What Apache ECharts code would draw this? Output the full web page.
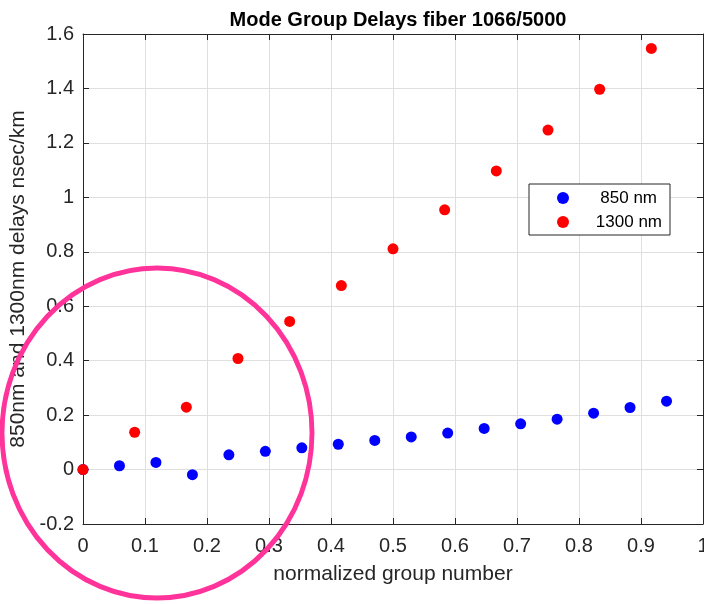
<!DOCTYPE html>
<html>
<head>
<meta charset="utf-8">
<script src="https://cdn.jsdelivr.net/npm/echarts@6/dist/echarts.min.js"></script>
<style>html,body{margin:0;padding:0;background:#fff;}#c{width:704px;height:604px;}</style>
</head>
<body>
<div id="c"></div>
<script>
var x850 = [0, 1/17, 2/17, 3/17, 4/17, 5/17, 6/17, 7/17, 8/17, 9/17, 10/17, 11/17, 12/17, 13/17, 14/17, 15/17, 16/17];
var y850 = [0, 0.014, 0.026, -0.019, 0.054, 0.067, 0.080, 0.093, 0.107, 0.120, 0.134, 0.151, 0.168, 0.185, 0.207, 0.228, 0.251];
var x1300 = [0, 1/12, 2/12, 3/12, 4/12, 5/12, 6/12, 7/12, 8/12, 9/12, 10/12, 11/12];
var y1300 = [0, 0.137, 0.229, 0.408, 0.544, 0.676, 0.811, 0.954, 1.097, 1.247, 1.397, 1.547];
var seriesNames = ['850 nm', '1300 nm'];
var titleText = 'Mode Group Delays fiber 1066/5000';
var xLabel = 'normalized group number';
var yLabel = '850nm and 1300nm delays nsec/km';

function pairs(xs, ys) { return xs.map(function (x, i) { return [x, ys[i]]; }); }
function fmt(v) { return String(parseFloat(v.toFixed(1))); }

var FONT = 'Liberation Sans, Arial, sans-serif';
var AX = '#262626';
var chart = echarts.init(document.getElementById('c'), null, {renderer: 'canvas'});
function axisBase() {
  return {
    axisLine: {show: true, onZero: false, lineStyle: {color: AX, width: 1}},
    axisTick: {show: true, inside: true, length: 6, lineStyle: {color: AX, width: 1}},
    splitLine: {show: false}
  };
}
chart.setOption({
  animation: false,
  backgroundColor: '#fff',
  title: {
    text: titleText, left: 393, top: 5, textAlign: 'center',
    textStyle: {fontFamily: FONT, fontSize: 20, fontWeight: 'bold', color: '#000'}
  },
  grid: {left: 83, right: 1, top: 34, bottom: 80, containLabel: false, outerBoundsMode: 'none'},
  legend: {
    data: seriesNames, orient: 'vertical', left: 529, top: 184,
    padding: [4, 8, 3, 28], itemGap: 4, itemWidth: 12, itemHeight: 12,
    borderColor: AX, borderWidth: 1, backgroundColor: '#fff', borderRadius: 0,
    icon: 'circle',
    formatter: function (n) { return n === seriesNames[0] ? '{a|' + n + '}' : '{b|' + n + '}'; },
    textStyle: {fontFamily: FONT, fontSize: 17, color: '#000', lineHeight: 20,
      rich: {
        a: {width: 83, align: 'right', fontFamily: FONT, fontSize: 17, color: '#000', lineHeight: 20},
        b: {width: 88, align: 'right', fontFamily: FONT, fontSize: 17, color: '#000', lineHeight: 20}
      }}
  },
  xAxis: [
    Object.assign(axisBase(), {
      type: 'value', min: 0, max: 1, interval: 0.1, position: 'bottom',
      name: xLabel, nameLocation: 'middle', nameGap: 40,
      nameTextStyle: {fontFamily: FONT, fontSize: 21, color: AX},
      axisLabel: {formatter: fmt, fontFamily: FONT, fontSize: 20, color: AX, margin: 12, showMaxLabel: true},
      splitLine: {show: true, lineStyle: {color: '#dfdfdf', width: 1}}
    }),
    Object.assign(axisBase(), {
      type: 'value', min: 0, max: 1, interval: 0.1, position: 'top',
      axisLabel: {show: false}
    })
  ],
  yAxis: [
    Object.assign(axisBase(), {
      type: 'value', min: -0.2, max: 1.6, interval: 0.2, position: 'left',
      name: yLabel, nameLocation: 'middle', nameGap: 43,
      nameTextStyle: {fontFamily: FONT, fontSize: 21, color: AX},
      axisLabel: {formatter: fmt, fontFamily: FONT, fontSize: 20, color: AX, margin: 9},
      splitLine: {show: true, lineStyle: {color: '#dfdfdf', width: 1}}
    }),
    Object.assign(axisBase(), {
      type: 'value', min: -0.2, max: 1.6, interval: 0.2, position: 'right',
      axisLabel: {show: false}
    })
  ],
  series: [
    {name: seriesNames[0], type: 'scatter', data: pairs(x850, y850), symbol: 'circle', symbolSize: 11,
      itemStyle: {color: '#0000ff', opacity: 1}, z: 3},
    {name: seriesNames[1], type: 'scatter', data: pairs(x1300, y1300), symbol: 'circle', symbolSize: 11,
      itemStyle: {color: '#ff0000', opacity: 1}, z: 4}
  ],
  graphic: [{
    type: 'circle', shape: {cx: 0, cy: 0, r: 160}, x: 157, y: 433,
    scaleX: 155 / 160, scaleY: 165 / 160,
    style: {fill: 'none', stroke: '#ff3399', lineWidth: 5}, z: 100, silent: true
  }]
});
</script>
</body>
</html>
